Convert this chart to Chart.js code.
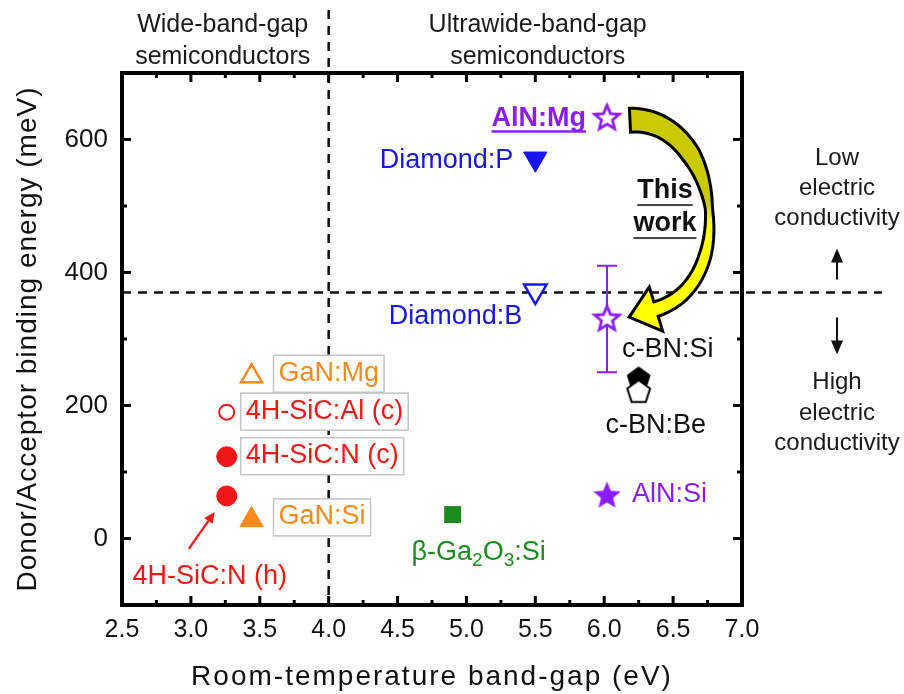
<!DOCTYPE html>
<html>
<head>
<meta charset="utf-8">
<script src="https://cdn.jsdelivr.net/npm/chart.js@4.4.1/dist/chart.umd.min.js"></script>
<style>
  html, body { margin: 0; padding: 0; background: #fff; }
  #wrap { width: 904px; height: 694px; }
</style>
</head>
<body>
<div id="wrap"><canvas id="chart" width="904" height="694"></canvas></div>
<script>
// Donor / acceptor binding energy vs room-temperature band gap
// =============================================================

const materials = ['AlN:Mg', 'AlN:Mg (this work)', 'Diamond:P', 'Diamond:B', 'c-BN:Si', 'c-BN:Be',
                   'AlN:Si', 'β-Ga2O3:Si', 'GaN:Mg', '4H-SiC:Al (c)', '4H-SiC:N (c)', '4H-SiC:N (h)', 'GaN:Si'];
const bandGap       = [6.02, 6.02, 5.5, 5.5, 6.25, 6.25, 6.02, 4.9, 3.44, 3.26, 3.26, 3.26, 3.44];
const bindingEnergy = [632, 330, 571, 372, 240, 220, 64, 36, 244, 190, 123, 64, 28];
const thisWorkRange = [250, 410];   // error bar of this work (meV)

const xTicks = [2.5, 3.0, 3.5, 4.0, 4.5, 5.0, 5.5, 6.0, 6.5, 7.0];
const yTicks = [0, 200, 400, 600];
const gapBoundary = 4.0;          // wide / ultrawide band gap (eV)
const conductivityLine = 370;     // meV

const xTitle = 'Room-temperature band-gap (eV)';
const yTitle = 'Donor/Acceptor binding energy (meV)';

const FONT = "'Liberation Sans', Arial, sans-serif";
const PURPLE = '#8a1cff', BLUE = '#1616ee', ORANGE = '#f98a1e', RED = '#f21616', GREEN = '#1c8a1c', BLACK = '#000';

// marker + label look, per material (pixel offsets from the point)
const look = {
    'AlN:Mg':             { marker: 'starOpen',  color: PURPLE, label: { text: 'AlN:Mg', dx: -21, dy: 0, align: 'right', bold: true, underline: true } },
    'AlN:Mg (this work)': { marker: 'starOpen',  color: PURPLE },
    'Diamond:P':          { marker: 'triDown',   color: BLUE,   label: { text: 'Diamond:P', dx: -22, dy: 2, align: 'right' } },
    'Diamond:B':          { marker: 'triDownOpen', color: BLUE, label: { text: 'Diamond:B', dx: -13, dy: 25, align: 'right' } },
    'c-BN:Si':            { marker: 'pent',      color: BLACK,  label: { text: 'c-BN:Si', dx: 29, dy: -29, align: 'center', color: '#111' } },
    'c-BN:Be':            { marker: 'pentOpen',  color: BLACK,  label: { text: 'c-BN:Be', dx: 17, dy: 33, align: 'center', color: '#111' } },
    'AlN:Si':             { marker: 'star',      color: PURPLE, label: { text: 'AlN:Si', dx: 25, dy: -1, align: 'left' } },
    'β-Ga2O3:Si':         { marker: 'square',    color: GREEN,  label: { parts: [['β-Ga'], ['2', 1], ['O'], ['3', 1], [':Si']], dx: 26, dy: 38, align: 'center' } },
    'GaN:Mg':             { marker: 'triUpOpen', color: ORANGE, label: { text: 'GaN:Mg', dx: 27, dy: -3, align: 'left', box: true } },
    '4H-SiC:Al (c)':      { marker: 'circleOpen', color: RED,   label: { text: '4H-SiC:Al (c)', dx: 19, dy: -1, align: 'left', box: true } },
    '4H-SiC:N (c)':       { marker: 'circle',    color: RED,    label: { text: '4H-SiC:N (c)', dx: 19, dy: -1, align: 'left', box: true } },
    '4H-SiC:N (h)':       { marker: 'circle',    color: RED,    label: { text: '4H-SiC:N (h)', dx: -17, dy: 81, align: 'center', pointer: [-38, 53, -12, 16] } },
    'GaN:Si':             { marker: 'triUp',     color: ORANGE, label: { text: 'GaN:Si', dx: 27, dy: -3, align: 'left', box: true } }
};

// custom marker images
function makeShape(n, R, r, fill, stroke, lw) {
    var c = document.createElement('canvas');
    var s = Math.ceil(2 * R + lw + 4);
    c.width = s; c.height = s;
    var g = c.getContext('2d');
    g.translate(s / 2, s / 2);
    g.beginPath();
    var pts = r ? n * 2 : n;
    for (var i = 0; i < pts; i++) {
        var a = -Math.PI / 2 + i * 2 * Math.PI / pts;
        var rad = (r && i % 2) ? r : R;
        g.lineTo(Math.cos(a) * rad, Math.sin(a) * rad);
    }
    g.closePath();
    g.fillStyle = fill;
    g.fill();
    if (stroke) { g.lineWidth = lw; g.strokeStyle = stroke; g.lineJoin = 'miter'; g.stroke(); }
    return c;
}

const images = {
    starOpen: makeShape(5, 13, 5.8, '#fff', PURPLE, 2.8),
    star:     makeShape(5, 14.5, 6.4, PURPLE, null, 0),
    pent:     makeShape(5, 12, 0, '#000', '#000', 1),
    pentOpen: makeShape(5, 12, 0, '#fff', '#000', 2)
};

function markerProps(m, color) {
    switch (m) {
        case 'starOpen':    return { style: images.starOpen, r: 12, rot: 0, bg: '#fff', bc: color, bw: 0 };
        case 'star':        return { style: images.star, r: 13, rot: 0, bg: color, bc: color, bw: 0 };
        case 'pent':        return { style: images.pent, r: 11, rot: 0, bg: color, bc: color, bw: 0 };
        case 'pentOpen':    return { style: images.pentOpen, r: 11, rot: 0, bg: '#fff', bc: color, bw: 0 };
        case 'triDown':     return { style: 'triangle', r: 13.5, rot: 180, bg: color, bc: color, bw: 1 };
        case 'triDownOpen': return { style: 'triangle', r: 13, rot: 180, bg: '#fff', bc: color, bw: 2.5 };
        case 'triUp':       return { style: 'triangle', r: 13.5, rot: 0, bg: color, bc: color, bw: 1 };
        case 'triUpOpen':   return { style: 'triangle', r: 12, rot: 0, bg: '#fff', bc: color, bw: 2.5 };
        case 'circle':      return { style: 'circle', r: 10, rot: 0, bg: color, bc: color, bw: 1 };
        case 'circleOpen':  return { style: 'circle', r: 7.5, rot: 0, bg: '#fff', bc: color, bw: 2 };
        case 'square':      return { style: 'rect', r: 12, rot: 0, bg: color, bc: color, bw: 0 };
    }
}

const props = materials.map(function (m) { return markerProps(look[m].marker, look[m].color); });

function pointPx(chart, i) {
    return [chart.scales.x.getPixelForValue(bandGap[i]), chart.scales.y.getPixelForValue(bindingEnergy[i])];
}

function dashedLine(ctx, x0, y0, x1, y1) {
    ctx.save();
    ctx.strokeStyle = '#111';
    ctx.lineWidth = 2.5;
    ctx.setLineDash([9, 7]);
    ctx.beginPath(); ctx.moveTo(x0, y0); ctx.lineTo(x1, y1); ctx.stroke();
    ctx.restore();
}

function arrowLine(ctx, x0, y0, x1, y1, color, lw, head, hw) {
    var a = Math.atan2(y1 - y0, x1 - x0);
    ctx.save();
    ctx.strokeStyle = color; ctx.fillStyle = color; ctx.lineWidth = lw;
    ctx.beginPath();
    ctx.moveTo(x0, y0);
    ctx.lineTo(x1 - Math.cos(a) * head * 0.8, y1 - Math.sin(a) * head * 0.8);
    ctx.stroke();
    ctx.beginPath();
    ctx.moveTo(x1, y1);
    ctx.lineTo(x1 - Math.cos(a) * head - Math.sin(a) * hw, y1 - Math.sin(a) * head + Math.cos(a) * hw);
    ctx.lineTo(x1 - Math.cos(a) * head + Math.sin(a) * hw, y1 - Math.sin(a) * head - Math.cos(a) * hw);
    ctx.closePath();
    ctx.fill();
    ctx.restore();
}

function drawLabel(ctx, x, y, spec, color) {
    var font = (spec.bold ? 'bold ' : '') + '27px ' + FONT;
    var subFont = '19px ' + FONT;
    var parts = spec.parts || [[spec.text]];
    ctx.save();
    ctx.textBaseline = 'middle';
    ctx.textAlign = 'left';
    var w = 0;
    parts.forEach(function (p) { ctx.font = p[1] ? subFont : font; w += ctx.measureText(p[0]).width; });
    var x0 = spec.align === 'right' ? x - w : spec.align === 'center' ? x - w / 2 : x;
    if (spec.box) {
        ctx.fillStyle = '#fff';
        ctx.strokeStyle = '#c4c4c4';
        ctx.lineWidth = 1.5;
        ctx.fillRect(x0 - 5, y - 18, w + 10, 37);
        ctx.strokeRect(x0 - 5, y - 18, w + 10, 37);
    }
    ctx.fillStyle = spec.color || color;
    var cx = x0;
    parts.forEach(function (p) {
        ctx.font = p[1] ? subFont : font;
        ctx.fillText(p[0], cx, p[1] ? y + 8 : y);
        cx += ctx.measureText(p[0]).width;
    });
    if (spec.underline) {
        ctx.fillRect(x0, y + 12, w, 2.5);
    }
    ctx.restore();
}

// curved "this work" arrow from the old AlN:Mg value to the new one
function drawCurvedArrow(ctx, a, b) {
    var P0 = [a[0] + 23, a[1] + 2], P1 = [a[0] + 111, a[1] - 2];
    var P2 = [a[0] + 135, b[1] - 36], P3 = [b[0] + 49, b[1] - 10];
    function bz(t, k) {
        var u = 1 - t;
        return u * u * u * P0[k] + 3 * u * u * t * P1[k] + 3 * u * t * t * P2[k] + t * t * t * P3[k];
    }
    function dbz(t, k) {
        var u = 1 - t;
        return 3 * u * u * (P1[k] - P0[k]) + 6 * u * t * (P2[k] - P1[k]) + 3 * t * t * (P3[k] - P2[k]);
    }
    var prof = [[0, 24], [0.3, 19], [0.52, 7], [0.7, 12], [1, 15]];
    function width(t) {
        for (var i = 1; i < prof.length; i++) {
            if (t <= prof[i][0]) {
                var f = (t - prof[i - 1][0]) / (prof[i][0] - prof[i - 1][0]);
                return prof[i - 1][1] + f * (prof[i][1] - prof[i - 1][1]);
            }
        }
        return prof[prof.length - 1][1];
    }
    var outer = [], inner = [], N = 60;
    for (var i = 0; i <= N; i++) {
        var t = i / N;
        var x = bz(t, 0), y = bz(t, 1);
        var dx = dbz(t, 0), dy = dbz(t, 1), l = Math.hypot(dx, dy);
        var nx = dy / l, ny = -dx / l, hw = width(t) / 2;
        outer.push([x + nx * hw, y + ny * hw]);
        inner.push([x - nx * hw, y - ny * hw]);
    }
    var ex = dbz(1, 0), ey = dbz(1, 1), el = Math.hypot(ex, ey);
    var dxn = ex / el, dyn = ey / el, nx1 = dyn, ny1 = -dxn;
    ctx.save();
    ctx.beginPath();
    outer.forEach(function (p, i) { if (i) ctx.lineTo(p[0], p[1]); else ctx.moveTo(p[0], p[1]); });
    ctx.lineTo(P3[0] + nx1 * 23, P3[1] + ny1 * 23);
    ctx.lineTo(P3[0] + dxn * 28, P3[1] + dyn * 28);
    ctx.lineTo(P3[0] - nx1 * 23, P3[1] - ny1 * 23);
    for (var j = inner.length - 1; j >= 0; j--) ctx.lineTo(inner[j][0], inner[j][1]);
    ctx.closePath();
    var grad = ctx.createLinearGradient(0, a[1] + 84, 0, a[1] + 104);
    grad.addColorStop(0, '#c9c900');
    grad.addColorStop(1, '#ffff00');
    ctx.fillStyle = grad;
    ctx.fill();
    ctx.lineWidth = 3;
    ctx.strokeStyle = '#000';
    ctx.lineJoin = 'miter';
    ctx.stroke();

    // "This work"
    ctx.fillStyle = '#111';
    ctx.font = 'bold 27px ' + FONT;
    ctx.textAlign = 'center';
    ctx.textBaseline = 'middle';
    var tx = b[0] + 58;
    [['This', b[1] - 129], ['work', b[1] - 96]].forEach(function (r) {
        ctx.fillText(r[0], tx, r[1]);
        var w = ctx.measureText(r[0]).width;
        ctx.fillStyle = '#444';
        ctx.fillRect(tx - w / 2, r[1] + 14, w, 2);
        ctx.fillStyle = '#111';
    });
    ctx.restore();
}

const underlay = {
    id: 'underlay',
    beforeDatasetsDraw: function (chart) {
        var ctx = chart.ctx, area = chart.chartArea;
        var xs = chart.scales.x, ys = chart.scales.y;
        var bx = xs.getPixelForValue(gapBoundary);
        var hy = ys.getPixelForValue(conductivityLine);
        dashedLine(ctx, bx, 10, bx, area.bottom);
        dashedLine(ctx, area.left, hy, 882, hy);

        // error bar of this work
        var i = materials.indexOf('AlN:Mg (this work)');
        var ex = xs.getPixelForValue(bandGap[i]);
        var y0 = ys.getPixelForValue(thisWorkRange[0]), y1 = ys.getPixelForValue(thisWorkRange[1]);
        ctx.save();
        ctx.strokeStyle = PURPLE;
        ctx.lineWidth = 2;
        ctx.beginPath();
        ctx.moveTo(ex, y0); ctx.lineTo(ex, y1);
        ctx.moveTo(ex - 10, y0); ctx.lineTo(ex + 10, y0);
        ctx.moveTo(ex - 10, y1); ctx.lineTo(ex + 10, y1);
        ctx.stroke();
        ctx.restore();
    }
};

const overlay = {
    id: 'overlay',
    afterDatasetsDraw: function (chart) {
        var ctx = chart.ctx, area = chart.chartArea;
        var xs = chart.scales.x, ys = chart.scales.y;

        drawCurvedArrow(ctx, pointPx(chart, 0), pointPx(chart, 1));

        materials.forEach(function (m, i) {
            var spec = look[m].label;
            if (!spec) return;
            var p = pointPx(chart, i);
            if (spec.pointer) {
                var q = spec.pointer;
                arrowLine(ctx, p[0] + q[0], p[1] + q[1], p[0] + q[2], p[1] + q[3], look[m].color, 2.2, 11, 5);
            }
            drawLabel(ctx, p[0] + spec.dx, p[1] + spec.dy, spec, look[m].color);
        });

        // frame + inward ticks
        ctx.save();
        ctx.strokeStyle = '#000';
        ctx.lineWidth = 4;
        ctx.strokeRect(area.left, area.top, area.right - area.left, area.bottom - area.top);
        ctx.lineWidth = 3;
        ctx.beginPath();
        for (var k = 0; k < xTicks.length; k++) {
            var vals = [[xTicks[k], 9]];
            if (k < xTicks.length - 1) vals.push([(xTicks[k] + xTicks[k + 1]) / 2, 5]);
            vals.forEach(function (v) {
                var px = xs.getPixelForValue(v[0]);
                ctx.moveTo(px, area.bottom); ctx.lineTo(px, area.bottom - v[1]);
                ctx.moveTo(px, area.top); ctx.lineTo(px, area.top + v[1]);
            });
        }
        var yAll = [];
        yTicks.forEach(function (v) { yAll.push([v, 9]); yAll.push([v + 100, 5]); });
        yAll.forEach(function (v) {
            var py = ys.getPixelForValue(v[0]);
            if (py <= area.top + 2) return;
            ctx.moveTo(area.left, py); ctx.lineTo(area.left + v[1], py);
            ctx.moveTo(area.right, py); ctx.lineTo(area.right - v[1], py);
        });
        ctx.stroke();
        ctx.restore();

        // axis titles
        ctx.save();
        ctx.fillStyle = '#111';
        ctx.font = '28px ' + FONT;
        ctx.textAlign = 'center';
        ctx.textBaseline = 'middle';
        if ('letterSpacing' in ctx) ctx.letterSpacing = '2px';
        ctx.fillText(xTitle, (area.left + area.right) / 2, 677);
        if ('letterSpacing' in ctx) ctx.letterSpacing = '1px';
        ctx.translate(28, (area.top + area.bottom) / 2);
        ctx.rotate(-Math.PI / 2);
        ctx.fillText(yTitle, 0, 0);
        ctx.restore();

        // region notes
        var bx = xs.getPixelForValue(gapBoundary);
        var hy = ys.getPixelForValue(conductivityLine);
        ctx.save();
        ctx.fillStyle = '#1a1a1a';
        ctx.font = '25px ' + FONT;
        ctx.textAlign = 'center';
        ctx.textBaseline = 'middle';
        ctx.fillText('Wide-band-gap', bx - 106, 25);
        ctx.fillText('semiconductors', bx - 106, 57);
        ctx.fillText('Ultrawide-band-gap', bx + 209, 25);
        ctx.fillText('semiconductors', bx + 209, 57);
        ctx.font = '24px ' + FONT;
        var rx = 837;
        ctx.fillText('Low', rx, hy - 134);
        ctx.fillText('electric', rx, hy - 104);
        ctx.fillText('conductivity', rx, hy - 74);
        ctx.fillText('High', rx, hy + 90);
        ctx.fillText('electric', rx, hy + 121);
        ctx.fillText('conductivity', rx, hy + 151);
        ctx.restore();
        arrowLine(ctx, rx, hy - 13, rx, hy - 44, '#111', 2, 14, 6);
        arrowLine(ctx, rx, hy + 25, rx, hy + 62, '#111', 2, 14, 6);
    }
};

new Chart(document.getElementById('chart'), {
    type: 'scatter',
    data: {
        datasets: [{
            data: materials.map(function (m, i) { return { x: bandGap[i], y: bindingEnergy[i] }; }),
            pointStyle: props.map(function (p) { return p.style; }),
            pointRadius: props.map(function (p) { return p.r; }),
            pointRotation: props.map(function (p) { return p.rot; }),
            backgroundColor: props.map(function (p) { return p.bg; }),
            borderColor: props.map(function (p) { return p.bc; }),
            borderWidth: props.map(function (p) { return p.bw; }),
            clip: false
        }]
    },
    options: {
        responsive: false,
        animation: false,
        devicePixelRatio: 1,
        layout: { padding: { top: 73, right: 162, left: 0, bottom: 0 } },
        plugins: { legend: { display: false }, tooltip: { enabled: false } },
        scales: {
            x: {
                type: 'linear', min: 2.5, max: 7.0,
                afterBuildTicks: function (s) { s.ticks = xTicks.map(function (v) { return { value: v }; }); },
                afterFit: function (s) { s.height = 89; },
                grid: { display: false, drawTicks: false },
                border: { display: false },
                ticks: {
                    padding: 10, color: '#111', autoSkip: false, maxRotation: 0,
                    font: { family: FONT, size: 25 },
                    callback: function (v) { return Number(v).toFixed(1); }
                }
            },
            y: {
                type: 'linear', min: -100, max: 700,
                afterBuildTicks: function (s) { s.ticks = yTicks.map(function (v) { return { value: v }; }); },
                afterFit: function (s) { s.width = 122; },
                grid: { display: false, drawTicks: false },
                border: { display: false },
                ticks: { padding: 14, color: '#111', font: { family: FONT, size: 26 } }
            }
        }
    },
    plugins: [underlay, overlay]
});
</script>
</body>
</html>
